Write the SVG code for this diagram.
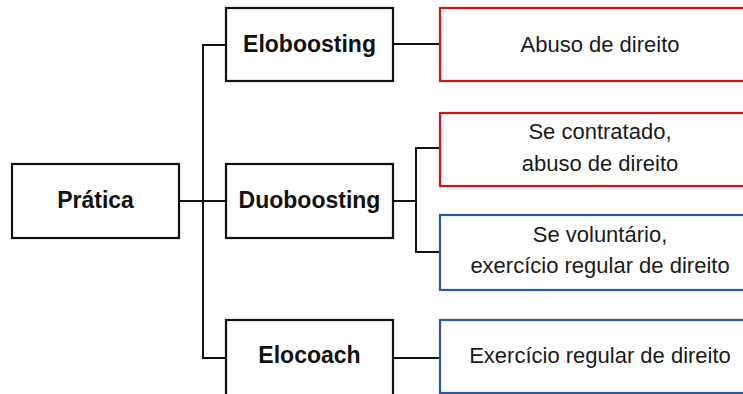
<svg xmlns="http://www.w3.org/2000/svg" width="743" height="394" viewBox="0 0 743 394">
<style>
.bx{fill:#fff;stroke:#111;stroke-width:2.2}
.red{fill:#fff;stroke:#d3111b;stroke-width:2.2}
.blue{fill:#fff;stroke:#2e55a6;stroke-width:2.2}
.b{font-family:"Liberation Sans",Arial,sans-serif;font-weight:bold;font-size:23px;fill:#111;text-anchor:middle}
.r{font-family:"Liberation Sans",Arial,sans-serif;font-size:22px;fill:#1a1a1a;text-anchor:middle}
.c{fill:none;stroke:#111;stroke-width:2}
</style>
<rect width="743" height="394" fill="#fff"/>
<g id="connectors">
<path class="c" d="M179 201H226"/>
<path class="c" d="M226 45H203V358H226"/>
<path class="c" d="M393 44H440"/>
<path class="c" d="M393 201H416M440 148H416V252H440"/>
<path class="c" d="M393 358H440"/>
</g>
<g id="pratica"><rect class="bx" x="12" y="164" width="167" height="74"/><text class="b" x="95.5" y="208">Prática</text></g>
<g id="eloboosting"><rect class="bx" x="226" y="8" width="167" height="73"/><text class="b" x="309.5" y="52">Eloboosting</text></g>
<g id="duoboosting"><rect class="bx" x="226" y="164" width="167" height="74"/><text class="b" x="309.5" y="208">Duoboosting</text></g>
<g id="elocoach"><rect class="bx" x="226" y="320" width="167" height="80"/><text class="b" x="309.5" y="363">Elocoach</text></g>
<g id="abuso"><rect class="red" x="440" y="8" width="320" height="73"/><text class="r" x="600" y="52">Abuso de direito</text></g>
<g id="contratado"><rect class="red" x="440" y="113" width="320" height="73"/><text class="r" x="600" y="139">Se contratado,</text><text class="r" x="600" y="171">abuso de direito</text></g>
<g id="voluntario"><rect class="blue" x="440" y="215" width="320" height="75"/><text class="r" x="600" y="242">Se voluntário,</text><text class="r" x="600" y="273">exercício regular de direito</text></g>
<g id="exercicio"><rect class="blue" x="440" y="320" width="320" height="73"/><text class="r" x="600" y="363">Exercício regular de direito</text></g>
</svg>
